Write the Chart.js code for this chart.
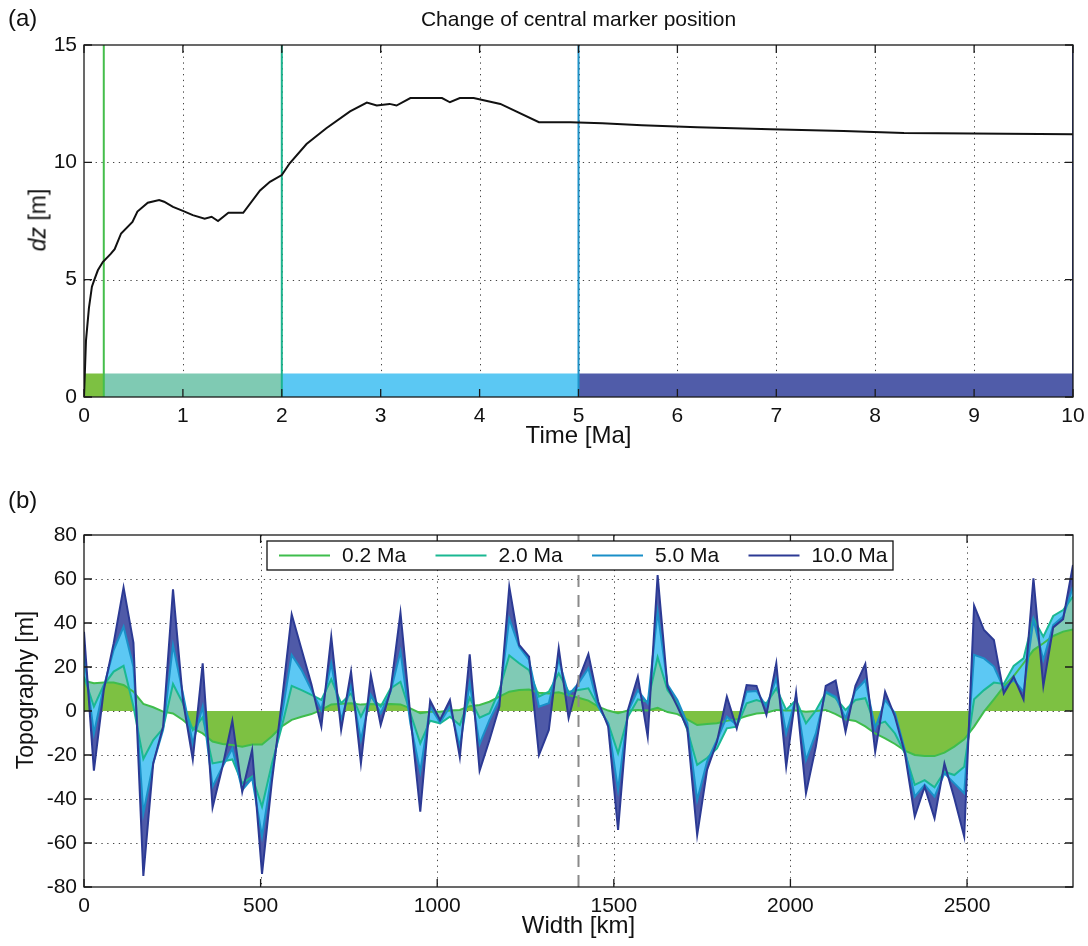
<!DOCTYPE html>
<html><head><meta charset="utf-8">
<script src="https://cdn.jsdelivr.net/npm/chart.js@4.4.1/dist/chart.umd.min.js"></script>
<style>
html,body{margin:0;padding:0;background:#fff;}
body{width:1088px;height:946px;position:relative;overflow:hidden;font-family:"Liberation Sans",Arial,sans-serif;color:#111;}
#wa{position:absolute;left:0;top:0;width:1088px;height:470px;}
#wb{position:absolute;left:0;top:470px;width:1088px;height:476px;}
.lab{position:absolute;font-size:24px;}
#title{position:absolute;left:84px;width:989px;top:7px;text-align:center;font-size:21px;}
.ylab{position:absolute;transform:translate(-50%,-50%) rotate(-90deg);font-size:23px;white-space:nowrap;}
</style></head><body>
<div id="wa"><canvas id="ca"></canvas></div>
<div id="wb"><canvas id="cb"></canvas></div>
<div class="lab" style="left:8px;top:4px">(a)</div>
<div class="lab" style="left:8px;top:486px">(b)</div>
<div id="title">Change of central marker position</div>
<div class="ylab" style="left:38px;top:220px"><i>dz</i> [m]</div>
<div class="ylab" style="left:25px;top:690px">Topography [m]</div>
<script>
// ---------- Panel (a) data ----------
const timeMa = [0,0.02,0.05,0.08,0.105,0.14,0.19,0.27,0.31,0.375,0.49,0.54,0.645,0.76,0.81,0.9,1.0,1.1,1.22,1.29,1.355,1.46,1.61,1.78,1.88,2.0,2.08,2.25,2.45,2.69,2.86,2.96,3.09,3.16,3.3,3.62,3.7,3.8,3.94,4.21,4.6,4.92,5.24,5.64,6.2,6.94,7.68,8.29,10.0];
const dzM = [0,2.4,3.8,4.7,5.0,5.4,5.75,6.1,6.3,6.97,7.46,7.9,8.28,8.39,8.32,8.1,7.93,7.75,7.6,7.68,7.5,7.85,7.85,8.8,9.17,9.46,9.96,10.78,11.45,12.17,12.55,12.42,12.49,12.42,12.74,12.74,12.56,12.74,12.74,12.49,11.71,11.71,11.67,11.58,11.5,11.41,11.33,11.25,11.2];
const phaseBounds = [0,0.2,2,5,10];
const phaseBarHeight = 1;
const snapshotTimes = [0.2,2,5,10];
const timeTicks = [0,1,2,3,4,5,6,7,8,9,10];
const dzTicks = [0,5,10,15];
const dzRange = [0,15];

// ---------- Panel (b) data ----------
const seriesLabels = ['0.2 Ma','2.0 Ma','5.0 Ma','10.0 Ma'];
const nodeSpacingKm = 28;
const nodeCount = 101;
const topo02 = [13.8,12.6,12.9,12.9,11.8,8.8,3.2,1.7,-0.3,-1.1,
 -4.1,-7.9,-10.2,-13.9,-15,-15.5,-16.2,-15.2,-15.2,-11.5,
 -7,-4,-2.6,-1.4,0.5,3,3.3,3.5,2.9,3.2,
 3,3.2,3,1.2,-1,-0.3,-0.3,0.2,0.5,2.2,
 2.7,4.2,6.5,8.8,9.5,9.8,8.3,8,8.5,7.3,
 6,4.7,2,0.2,-1,0.2,0.5,0.2,1.5,-0.5,
 -1.4,-3.8,-6.4,-5.9,-5.6,-4.4,-3.8,-2.3,-1.1,-0.8,
 0.5,0.2,0.2,-0.3,0,0.5,-1.4,-3.8,-4.5,-7,
 -10.2,-12.4,-15,-18,-20,-20.5,-20.5,-18.9,-16.2,-12.9,
 -7.1,-0.3,5.3,11.1,15.9,21.7,27.7,30.8,34.1,36.1,
 37.1];
const topo20 = [15.6,2,11.8,17.9,20.5,2,-21.8,-13.2,-7.9,12.3,
 3.5,-8.6,-2.9,-23.8,-23,-22,-32.9,-29.8,-43.5,-24,
 -7,11.4,9.5,7.3,5,14.4,3.5,8,-2.6,6.5,
 2,10.3,13.3,-1,-14.7,-4.4,-5.6,-2.6,-6.4,6,
 -3,-1,9.5,25.2,21.7,18.6,6.5,8.8,17.1,8.8,
 9.5,10.3,2,-5.6,-19.2,-2.6,5.3,4.2,24.4,9.5,
 3.5,-8.6,-24.5,-21.4,-17,-7.9,-7.1,3.5,5,3.5,
 10.3,0.5,5,-5.6,0.2,8.3,5.8,0.5,5,5.8,
 -6.4,-4.8,-10.2,-19.2,-33.6,-31.4,-34.7,-27.6,-29.1,-25.3,
 5.3,9.5,12.9,12.3,20.5,23.9,42.1,33.8,43.2,45.9,
 52];
const topo50 = [25.5,-10.2,11,27.7,38.3,20,-46.5,-23.8,-8.6,30,
 8,-14.7,2,-34.4,-25.3,-17,-35.9,-30.6,-57,-28,
 -2,25.5,18.6,9.5,0.5,21.7,-4.1,11.4,-13.2,7.3,
 -1,8.8,27,-5.6,-27.6,2,-5.3,2,-16.2,12.6,
 -15,-4,5,42,29.2,23.2,2,3.5,23.5,7.3,
 12.6,19.4,2,-5.6,-35.9,-0.3,9.5,3.5,45.2,12,
 5,-5.6,-40.5,-23,-13.2,-2.6,-6.4,8.8,9.1,2,
 14.8,-10.2,6.5,-22.3,-10.2,8.8,6.5,-3.3,9.2,14,
 -7.9,5,-1,-17.7,-38.9,-33.6,-38.9,-28.3,-32.9,-37.4,
 25.5,23.9,20.2,10.3,14.1,8.8,41.4,23.2,39.1,42.9,
 56.5];
const topo100 = [36,-27.1,9.5,30.8,56.2,31,-75,-23.8,-7,55.3,
 5,-22,21.7,-43.8,-25.3,-4.4,-36.7,-17.7,-74,-32,
 4,43.9,28,12,-7.1,33.8,-8.6,17.9,-23.8,16.4,
 -6.4,9.5,44.7,-2,-45.8,4.7,-4.1,5,-21,25.8,
 -27.1,-13.2,2,56.5,30,24.7,-20,-8.6,28.5,-3.3,
 14.1,25.9,4.2,-7.1,-54.1,0.5,15.6,-11.7,61.8,11,
 2,-7.9,-56.4,-26.8,-14,6.5,-7.9,11.8,11.4,-1.8,
 21.7,-25.3,8.3,-37.4,-16.2,11.4,13.8,-9.4,11.4,21.4,
 -18.5,8.8,-2.6,-19.2,-48,-34.4,-48.8,-23.8,-39.7,-57.1,
 47.9,36.8,32.3,8,15.6,5.3,60.3,11.4,38,41.7,
 66.4];
const centralMarkerKm = 1400;
const widthTicks = [0,500,1000,1500,2000,2500];
const topoTicks = [-80,-60,-40,-20,0,20,40,60,80];
const topoRange = [-80,80];
const widthRange = [0,2800];

// ---------- Styles ----------
const phaseFill = ['#7dc142','#7fcab3','#5bc8f3','#505ca9'];
const snapLine = ['#45be4b','#1cb48e','#1e93c9','#2e3d98'];
const topoFill = ['#7dc142','#80cab5','#5cc8f4','#4f5aa8'];
const topoLine = ['#3fbd4c','#1ab892','#1a8fc8','#2c3a94'];
const FONT = '"Liberation Sans", Arial, sans-serif';
Chart.defaults.font.family = FONT;
Chart.defaults.color = '#111';
const plainTick = v => String(v);

const framePlugin = {
  id: 'frame',
  beforeDraw(chart) {
    const {ctx, chartArea: a, scales: {x, y}} = chart;
    ctx.save();
    ctx.strokeStyle = '#444'; ctx.lineWidth = 1; ctx.setLineDash([1.3, 4.5]);
    x.ticks.forEach(t => {
      const p = Math.round(x.getPixelForValue(t.value)) + 0.5;
      if (p > a.left + 2 && p < a.right - 2) { ctx.beginPath(); ctx.moveTo(p, a.top); ctx.lineTo(p, a.bottom); ctx.stroke(); }
    });
    y.ticks.forEach(t => {
      const p = Math.round(y.getPixelForValue(t.value)) + 0.5;
      if (p > a.top + 2 && p < a.bottom - 2) { ctx.beginPath(); ctx.moveTo(a.left, p); ctx.lineTo(a.right, p); ctx.stroke(); }
    });
    ctx.restore();
  },
  afterDatasetsDraw(chart) {
    const {ctx, chartArea: a, scales: {x, y}} = chart;
    ctx.save();
    ctx.strokeStyle = '#1a1a1a'; ctx.lineWidth = 1.3; ctx.setLineDash([]);
    ctx.strokeRect(a.left, a.top, a.right - a.left, a.bottom - a.top);
    const L = 8;
    ctx.beginPath();
    x.ticks.forEach(t => {
      const p = x.getPixelForValue(t.value);
      ctx.moveTo(p, a.bottom); ctx.lineTo(p, a.bottom - L);
      ctx.moveTo(p, a.top); ctx.lineTo(p, a.top + L);
    });
    y.ticks.forEach(t => {
      const p = y.getPixelForValue(t.value);
      ctx.moveTo(a.left, p); ctx.lineTo(a.left + L, p);
      ctx.moveTo(a.right, p); ctx.lineTo(a.right - L, p);
    });
    ctx.stroke();
    ctx.restore();
  }
};

const boxLegend = {
  id: 'boxLegend',
  afterDatasetsDraw(chart) {
    const {ctx, chartArea: a} = chart;
    const left = a.left + 183, top = a.top + 6, w = 626, h = 29;
    ctx.save();
    ctx.fillStyle = '#fff'; ctx.fillRect(left, top, w, h);
    ctx.strokeStyle = '#111'; ctx.lineWidth = 1.3; ctx.strokeRect(left, top, w, h);
    ctx.font = '21px ' + FONT; ctx.textBaseline = 'middle'; ctx.fillStyle = '#111';
    chart.data.datasets.slice(0, 4).forEach((ds, k) => {
      const x0 = left + 12 + k * 156.5, yc = top + h / 2;
      ctx.strokeStyle = ds.borderColor; ctx.lineWidth = 2;
      ctx.beginPath(); ctx.moveTo(x0, yc); ctx.lineTo(x0 + 51, yc); ctx.stroke();
      ctx.fillText(ds.label, x0 + 63, yc + 1);
    });
    ctx.restore();
  }
};

const fixX = h => s => { s.height = h; s.paddingLeft = 0; s.paddingRight = 0; };
const fixY = w => s => { s.width = w; s.paddingTop = 0; s.paddingBottom = 0; };

// ---------- Chart (a) ----------
const dsA = [];
dsA.push({label: 'dz', data: timeMa.map((t, i) => ({x: t, y: dzM[i]})), borderColor: '#111', borderWidth: 2, pointRadius: 0, fill: false, order: 0});
snapshotTimes.forEach((t, k) => {
  dsA.push({label: 'v' + t, data: [{x: t, y: dzRange[0]}, {x: t, y: dzRange[1]}], borderColor: snapLine[k], borderWidth: 2, pointRadius: 0, fill: false, order: 1});
});
phaseFill.forEach((c, k) => {
  dsA.push({label: 'p' + k, data: [{x: phaseBounds[k], y: phaseBarHeight}, {x: phaseBounds[k + 1], y: phaseBarHeight}], borderColor: 'rgba(0,0,0,0)', borderWidth: 0, backgroundColor: c, pointRadius: 0, fill: 'origin', order: 2});
});

new Chart(document.getElementById('ca'), {
  type: 'line',
  data: {datasets: dsA},
  options: {
    responsive: true, maintainAspectRatio: false, animation: false,
    layout: {padding: {top: 45, right: 15, left: 0, bottom: 0}},
    plugins: {legend: {display: false}, tooltip: {enabled: false}},
    scales: {
      x: {type: 'linear', min: 0, max: 10,
        afterBuildTicks: s => { s.ticks = timeTicks.map(v => ({value: v})); },
        afterFit: fixX(73),
        grid: {display: false, drawTicks: false}, border: {display: false},
        ticks: {font: {size: 21}, padding: 7, maxRotation: 0, autoSkip: false, callback: plainTick},
        title: {display: true, text: 'Time [Ma]', font: {size: 24}, padding: {top: 0, bottom: 19}}},
      y: {type: 'linear', min: dzRange[0], max: dzRange[1],
        afterBuildTicks: s => { s.ticks = dzTicks.map(v => ({value: v})); },
        afterFit: fixY(84),
        grid: {display: false, drawTicks: false}, border: {display: false},
        ticks: {font: {size: 21}, padding: 7, callback: plainTick}}
    }
  },
  plugins: [framePlugin]
});

// ---------- Chart (b) ----------
const widthKm = Array.from({length: nodeCount}, (_, i) => i * nodeSpacingKm);
const topoSeries = [topo02, topo20, topo50, topo100];
const dsB = topoSeries.map((arr, k) => ({
  label: seriesLabels[k],
  data: widthKm.map((x, i) => ({x: x, y: arr[i]})),
  borderColor: topoLine[k], backgroundColor: topoFill[k], borderWidth: 2, pointRadius: 0,
  fill: k === 0 ? 'origin' : '-1', order: 4 - k, tension: 0
}));
dsB.push({label: 'marker', data: [{x: centralMarkerKm, y: topoRange[0]}, {x: centralMarkerKm, y: topoRange[1]}],
  borderColor: '#8a8a8a', borderDash: [12, 8], borderWidth: 2, pointRadius: 0, fill: false, order: -1});

new Chart(document.getElementById('cb'), {
  type: 'line',
  data: {datasets: dsB},
  options: {
    responsive: true, maintainAspectRatio: false, animation: false,
    layout: {padding: {top: 65, right: 15, left: 0, bottom: 0}},
    plugins: {legend: {display: false}, tooltip: {enabled: false}, filler: {drawTime: 'beforeDatasetsDraw'}},
    scales: {
      x: {type: 'linear', min: widthRange[0], max: widthRange[1],
        afterBuildTicks: s => { s.ticks = widthTicks.map(v => ({value: v})); },
        afterFit: fixX(59),
        grid: {display: false, drawTicks: false}, border: {display: false},
        ticks: {font: {size: 21}, padding: 7, maxRotation: 0, autoSkip: false, callback: plainTick},
        title: {display: true, text: 'Width [km]', font: {size: 24}, padding: {top: 0, bottom: 5}}},
      y: {type: 'linear', min: topoRange[0], max: topoRange[1],
        afterBuildTicks: s => { s.ticks = topoTicks.map(v => ({value: v})); },
        afterFit: fixY(84),
        grid: {display: false, drawTicks: false}, border: {display: false},
        ticks: {font: {size: 21}, padding: 7, callback: plainTick}}
    }
  },
  plugins: [framePlugin, boxLegend]
});
</script>
</body></html>
